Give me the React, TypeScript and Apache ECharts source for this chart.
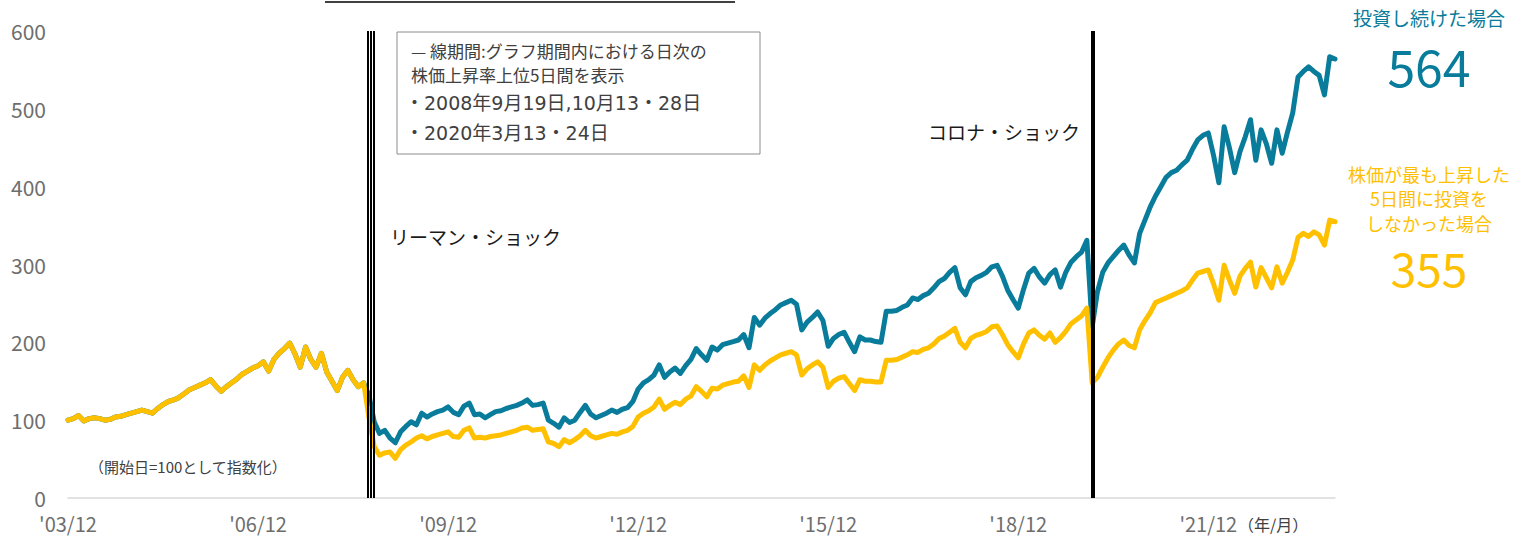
import React, { useEffect, useRef } from "react";
import * as echarts from "echarts";

// x = month index, 0 = 2003/12, 240 = 2023/12
const xTickLabels = ["'03/12", "'06/12", "'09/12", "'12/12", "'15/12", "'18/12", "'21/12"];
const yTicks = [0, 100, 200, 300, 400, 500, 600];

// 投資し続けた場合 (monthly, from 2003/12)
const investedAll = [
  100, 102, 106, 99, 102, 103, 102, 100, 101, 104, 105, 107, 109, 111, 113, 111, 109, 115, 120, 124,
  126, 129, 134, 139, 142, 145, 148, 152, 144, 137, 143, 148, 153, 159, 163, 167, 170, 175, 163, 178,
  186, 192, 199, 185, 168, 194, 178, 168, 186, 162, 150, 138, 155, 164, 152, 143, 148, 132, 98, 83,
  87, 77, 71, 85, 92, 98, 94, 109, 104, 108, 111, 113, 117, 110, 107, 118, 122, 107, 108, 103,
  107, 111, 112, 115, 117, 119, 122, 126, 119, 120, 122, 100, 96, 91, 103, 97, 100, 110, 119, 108,
  103, 106, 109, 113, 110, 114, 116, 124, 140, 148, 152, 158, 171, 155, 162, 167, 160, 170, 178, 192,
  184, 177, 194, 190, 197, 199, 201, 203, 210, 193, 232, 222, 231, 237, 242, 248, 251, 254, 249, 216,
  226, 232, 239, 228, 195, 205, 210, 213, 200, 188, 207, 203, 203, 201, 200, 240, 240, 241, 245, 248,
  257, 255, 260, 263, 270, 278, 282, 290, 296, 270, 261, 278, 283, 286, 290, 297, 299, 285, 267, 255,
  244, 268, 289, 295, 284, 276, 287, 293, 271, 290, 303, 310, 316, 331, 220, 265, 290, 302, 310, 318,
  325, 312, 302, 340, 357, 374, 388, 400, 412, 418, 421, 428, 434, 448, 460, 466, 469, 440, 405, 477,
  450, 418, 445, 464, 486, 434, 473, 455, 430, 473, 443, 470, 495, 541, 548, 554, 548, 543, 518, 567,
  564,
];

// 株価が最も上昇した5日間に投資をしなかった場合 (monthly, from 2003/12)
const missedBest5 = [
  100, 102, 106, 99, 102, 103, 102, 100, 101, 104, 105, 107, 109, 111, 113, 111, 109, 115, 120, 124,
  126, 129, 134, 139, 142, 145, 148, 152, 144, 137, 143, 148, 153, 159, 163, 167, 170, 175, 163, 178,
  186, 192, 199, 185, 168, 194, 178, 168, 186, 162, 150, 138, 155, 164, 152, 143, 148, 104, 66, 55,
  58, 59, 51, 62, 68, 72, 77, 80, 76, 79, 81, 83, 85, 79, 78, 87, 90, 77, 78, 77,
  79, 80, 81, 83, 85, 87, 90, 91, 87, 88, 89, 72, 70, 66, 75, 71, 75, 80, 87, 80,
  77, 79, 81, 83, 82, 85, 87, 92, 104, 109, 112, 117, 127, 114, 119, 123, 120, 127, 131, 143,
  137, 130, 141, 140, 145, 147, 149, 150, 157, 142, 171, 164, 171, 176, 180, 184, 186, 188, 184, 158,
  166, 171, 175, 168, 142, 150, 154, 156, 147, 138, 152, 150, 150, 149, 149, 177, 177, 178, 181, 184,
  188, 187, 191, 193, 198, 205, 208, 213, 218, 200, 193, 205, 209, 211, 214, 220, 221, 210, 197, 188,
  180, 198, 212, 216, 209, 204, 212, 200, 206, 214, 224, 229, 234, 244, 148, 155, 168, 180, 190, 198,
  203, 196, 193, 216, 228, 238, 251, 254, 257, 260, 263, 266, 270, 280, 289, 291, 293, 275, 254, 299,
  280, 263, 285, 295, 303, 271, 296, 283, 270, 297, 276, 290, 306, 335, 340, 336, 342, 338, 325, 357,
  355,
];

// vertical marker lines (month index): top-5 up days
const lehmanLines = [56.8, 57.37, 57.94];
const coronaLines = [194.2];

const BLUE = "#087C9A";
const YELLOW = "#FFC000";
const JP = "'Noto Sans CJK JP', 'Noto Sans', sans-serif";
const JPW = "'DejaVu Sans', 'Noto Sans CJK JP', sans-serif";

export default function App() {
  const ref = useRef<HTMLDivElement>(null);

  useEffect(() => {
    document.body.style.margin = "0";
    if (!ref.current) return;
    const chart = echarts.init(ref.current, undefined, { renderer: "svg" });

    const txt = (
      x: number,
      y: number,
      text: string,
      size: number,
      color: string,
      align = "left",
      family = JP,
      lineHeight?: number
    ) => ({
      type: "text",
      x,
      y,
      silent: true,
      style: {
        text,
        font: `${size}px ${family}`,
        fill: color,
        align,
        verticalAlign: "middle",
        textAlign: align,
        textVerticalAlign: "middle",
        ...(lineHeight ? { lineHeight } : {}),
      },
    });

    chart.setOption({
      animation: false,
      backgroundColor: "#ffffff",
      grid: { left: 68, right: 184, top: 31, bottom: 39, containLabel: false },
      xAxis: {
        type: "value",
        min: 0,
        max: 240,
        interval: 36,
        axisLine: { show: true, lineStyle: { color: "#D9D9D9", width: 1.5 } },
        axisTick: { show: false },
        splitLine: { show: false },
        axisLabel: {
          showMaxLabel: false,
          margin: 15,
          color: "#6E6E6E",
          fontSize: 20,
          fontFamily: JP,
          formatter: (v: number) => {
            const k = Math.round(v / 36);
            return v % 36 === 0 && xTickLabels[k] ? xTickLabels[k] : "";
          },
        },
      },
      yAxis: {
        type: "value",
        min: yTicks[0],
        max: yTicks[yTicks.length - 1],
        interval: 100,
        axisLine: { show: false },
        axisTick: { show: false },
        splitLine: { show: false },
        axisLabel: { margin: 22, color: "#6E6E6E", fontSize: 21, fontFamily: JP },
      },
      series: [
        {
          type: "line",
          data: [],
          silent: true,
          markLine: {
            silent: true,
            symbol: "none",
            label: { show: false },
            data: [
              ...lehmanLines.map((x) => ({ xAxis: x, lineStyle: { color: "#000", width: 2, type: "solid" } })),
              ...coronaLines.map((x) => ({ xAxis: x, lineStyle: { color: "#000", width: 4, type: "solid" } })),
            ],
          },
        },
        {
          name: "投資し続けた場合",
          type: "line",
          data: investedAll.map((v, i) => [i, v]),
          showSymbol: false,
          lineStyle: { color: BLUE, width: 5, join: "round", cap: "round" },
          itemStyle: { color: BLUE },
        },
        {
          name: "株価が最も上昇した5日間に投資をしなかった場合",
          type: "line",
          data: missedBest5.map((v, i) => [i, v]),
          showSymbol: false,
          lineStyle: { color: YELLOW, width: 5, join: "round", cap: "round" },
          itemStyle: { color: YELLOW },
        },
      ],
      graphic: [
        { type: "line", silent: true, shape: { x1: 325, y1: 2, x2: 735, y2: 2 }, style: { stroke: "#000", lineWidth: 1.5 } },
        { type: "rect", silent: true, shape: { x: 397, y: 32, width: 363, height: 122 }, style: { fill: "#fff", stroke: "#8C8C8C", lineWidth: 1 } },
        txt(411, 50, "— 線期間:グラフ期間内における日次の", 17, "#404040"),
        txt(411, 74, "株価上昇率上位5日間を表示", 17, "#404040"),
        txt(405, 103, "・2008年9月19日,10月13・28日", 19, "#404040", "left", JPW),
        txt(405, 133, "・2020年3月13・24日", 19, "#404040", "left", JPW),
        txt(390, 236, "リーマン・ショック", 19, "#1a1a1a"),
        txt(928, 131, "コロナ・ショック", 19, "#1a1a1a"),
        txt(89, 466, "（開始日=100として指数化）", 15, "#404040"),
        txt(1238, 524, "（年/月）", 16, "#404040"),
        txt(1429, 17, "投資し続けた場合", 19, BLUE, "center"),
        txt(1429, 65, "564", 50, BLUE, "center"),
        txt(1429, 198, "株価が最も上昇した\n5日間に投資を\nしなかった場合", 18, YELLOW, "center", JP, 24.5),
        txt(1429, 267, "355", 46, YELLOW, "center"),
      ],
    });

    return () => chart.dispose();
  }, []);

  return <div ref={ref} style={{ width: 1519, height: 537 }} />;
}
